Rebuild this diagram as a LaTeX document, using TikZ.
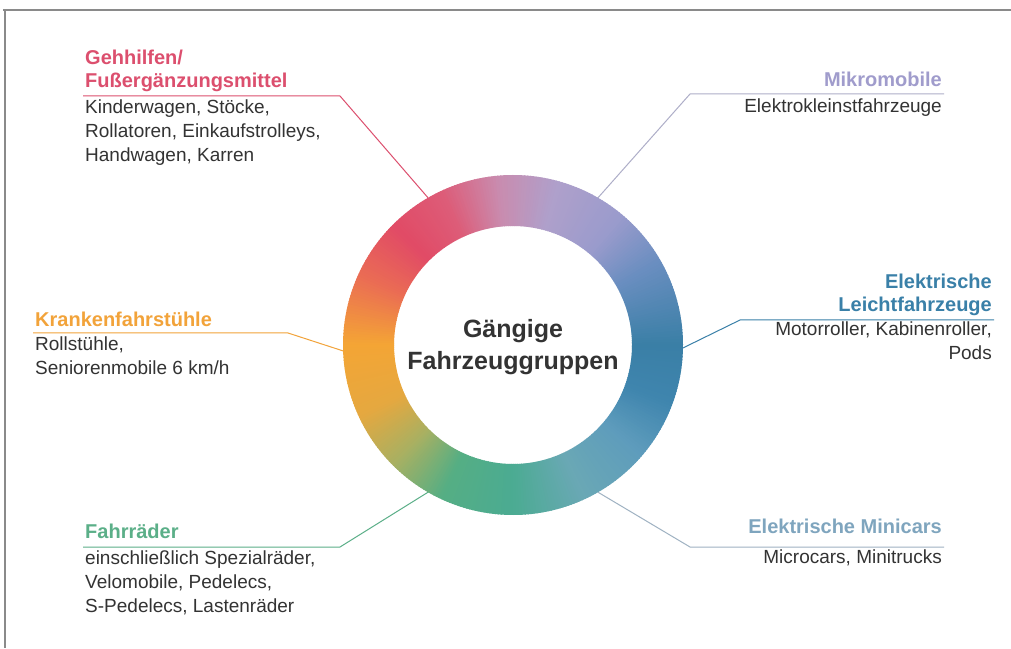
\documentclass[tikz,border=0pt]{standalone}
\usepackage{fontspec}
\setmainfont{Liberation Sans}
\definecolor{txt}{HTML}{333333}
\definecolor{frm}{HTML}{8A8A8A}
\definecolor{cgeh}{HTML}{DC4F6E}
\definecolor{cmik}{HTML}{A09CCC}
\definecolor{ckra}{HTML}{F2A33A}
\definecolor{clei}{HTML}{3A80A8}
\definecolor{cfah}{HTML}{5BAF88}
\definecolor{cmin}{HTML}{7FA5BE}
\definecolor{lmik}{HTML}{AEAEC8}
\definecolor{lmin}{HTML}{9FB2C2}
\definecolor{r0}{HTML}{3A7FA6}
\definecolor{r30}{HTML}{6A8EC0}
\definecolor{r50}{HTML}{9A9BCC}
\definecolor{r75}{HTML}{AFA0CB}
\definecolor{r95}{HTML}{C98CAF}
\definecolor{r115}{HTML}{DD5C78}
\definecolor{r135}{HTML}{E14B66}
\definecolor{r155}{HTML}{EA6B55}
\definecolor{r180}{HTML}{F4A535}
\definecolor{r205}{HTML}{E5A840}
\definecolor{r225}{HTML}{A8B062}
\definecolor{r245}{HTML}{55AE84}
\definecolor{r270}{HTML}{4BAB92}
\definecolor{r295}{HTML}{6AA8B5}
\definecolor{r320}{HTML}{5E9CBC}
\definecolor{r340}{HTML}{3F85AE}
\begin{document}
\begin{tikzpicture}[x=1pt,y=1pt,
  body/.style={inner sep=0pt, font=\fontsize{19}{24}\selectfont, text=txt},
  ttl/.style={inner sep=0pt, font=\fontsize{20}{23}\selectfont\bfseries},
  lead/.style={line width=1pt},
  frame/.style={draw=frm, line width=1.2pt}]
\useasboundingbox (0,0) rectangle (1011,648);
\fill[white] (0,0) rectangle (1011,648);
% frame
\draw[frame] (3,638) -- (1011,638);
\draw[frame] (5,638) -- (5,0);
% gradient ring
\begin{scope}[shift={(513,303)}]
\foreach \s/\e/\ca/\cb in {0/30/r0/r30,30/50/r30/r50,50/75/r50/r75,75/95/r75/r95,95/115/r95/r115,115/135/r115/r135,135/155/r135/r155,155/180/r155/r180,180/205/r180/r205,205/225/r205/r225,225/245/r225/r245,245/270/r245/r270,270/295/r270/r295,295/320/r295/r320,320/340/r320/r340,340/360/r340/r0}{
  \pgfmathtruncatemacro\n{\e-\s-1}
  \foreach \k in {0,...,\n}{
    \pgfmathsetmacro\p{100*(\k+0.5)/(\e-\s)}
    \pgfmathsetmacro\aa{\s+\k}
    \pgfmathsetmacro\ab{\s+\k+1.3}
    \fill[fill=\cb!\p!\ca] (\aa:119) -- (\aa:170) arc[start angle=\aa, end angle=\ab, radius=170] -- (\ab:119) arc[start angle=\ab, end angle=\aa, radius=119] -- cycle;
  }
}
\end{scope}
\node[circle, minimum size=340pt, inner sep=0pt, outer sep=0pt] (ring) at (513,303) {};
\node[anchor=base, align=center, inner sep=0pt, text=txt, font=\fontsize{25}{32}\selectfont\bfseries] (ctr) at (513,278) {Gängige\\Fahrzeuggruppen};
% Gehhilfen
\node[ttl, text=cgeh, anchor=base west, align=left] (tgeh) at (85,560) {Gehhilfen/\\Fußergänzungsmittel};
\node[body, anchor=base west, align=left] (bgeh) at (85,486) {Kinderwagen, Stöcke,\\Rollatoren, Einkaufstrolleys,\\Handwagen, Karren};
\coordinate (g1) at (83,552); \coordinate (g2) at (340,552);
\draw[lead, draw=cgeh] (g1) -- (g2) -- (ring.120);
% Mikromobile
\node[ttl, text=cmik, anchor=base east, align=right] (tmik) at (942,561) {Mikromobile};
\node[body, anchor=base east, align=right] (bmik) at (942,535) {Elektrokleinstfahrzeuge};
\coordinate (m1) at (944,554); \coordinate (m2) at (690,554);
\draw[lead, draw=lmik] (m1) -- (m2) -- (ring.60);
% Krankenfahrstuehle
\node[ttl, text=ckra, anchor=base west, align=left] (tkra) at (35,321) {Krankenfahrstühle};
\node[body, anchor=base west, align=left] (bkra) at (35,273) {Rollstühle,\\Seniorenmobile 6 km/h};
\coordinate (k1) at (33,315); \coordinate (k2) at (288,315);
\draw[lead, draw=ckra] (k1) -- (k2) -- (ring.182);
% Elektrische Leichtfahrzeuge
\node[ttl, text=clei, anchor=base east, align=right] (tlei) at (992,336) {Elektrische\\Leichtfahrzeuge};
\node[body, anchor=base east, align=right] (blei) at (992,288) {Motorroller, Kabinenroller,\\Pods};
\coordinate (l1) at (994,328); \coordinate (l2) at (740,328);
\draw[lead, draw=clei] (l1) -- (l2) -- (ring.359);
% Fahrraeder
\node[ttl, text=cfah, anchor=base west, align=left] (tfah) at (85,110) {Fahrräder};
\node[body, anchor=base west, align=left] (bfah) at (85,36) {einschließlich Spezialräder,\\Velomobile, Pedelecs,\\S-Pedelecs, Lastenräder};
\coordinate (f1) at (83,101); \coordinate (f2) at (340,101);
\draw[lead, draw=cfah] (f1) -- (f2) -- (ring.240);
% Elektrische Minicars
\node[ttl, text=cmin, anchor=base east, align=right] (tmin) at (942,115) {Elektrische Minicars};
\node[body, anchor=base east, align=right] (bmin) at (942,85) {Microcars, Minitrucks};
\coordinate (n1) at (944,101); \coordinate (n2) at (690,101);
\draw[lead, draw=lmin] (n1) -- (n2) -- (ring.300);
\end{tikzpicture}
\end{document}
